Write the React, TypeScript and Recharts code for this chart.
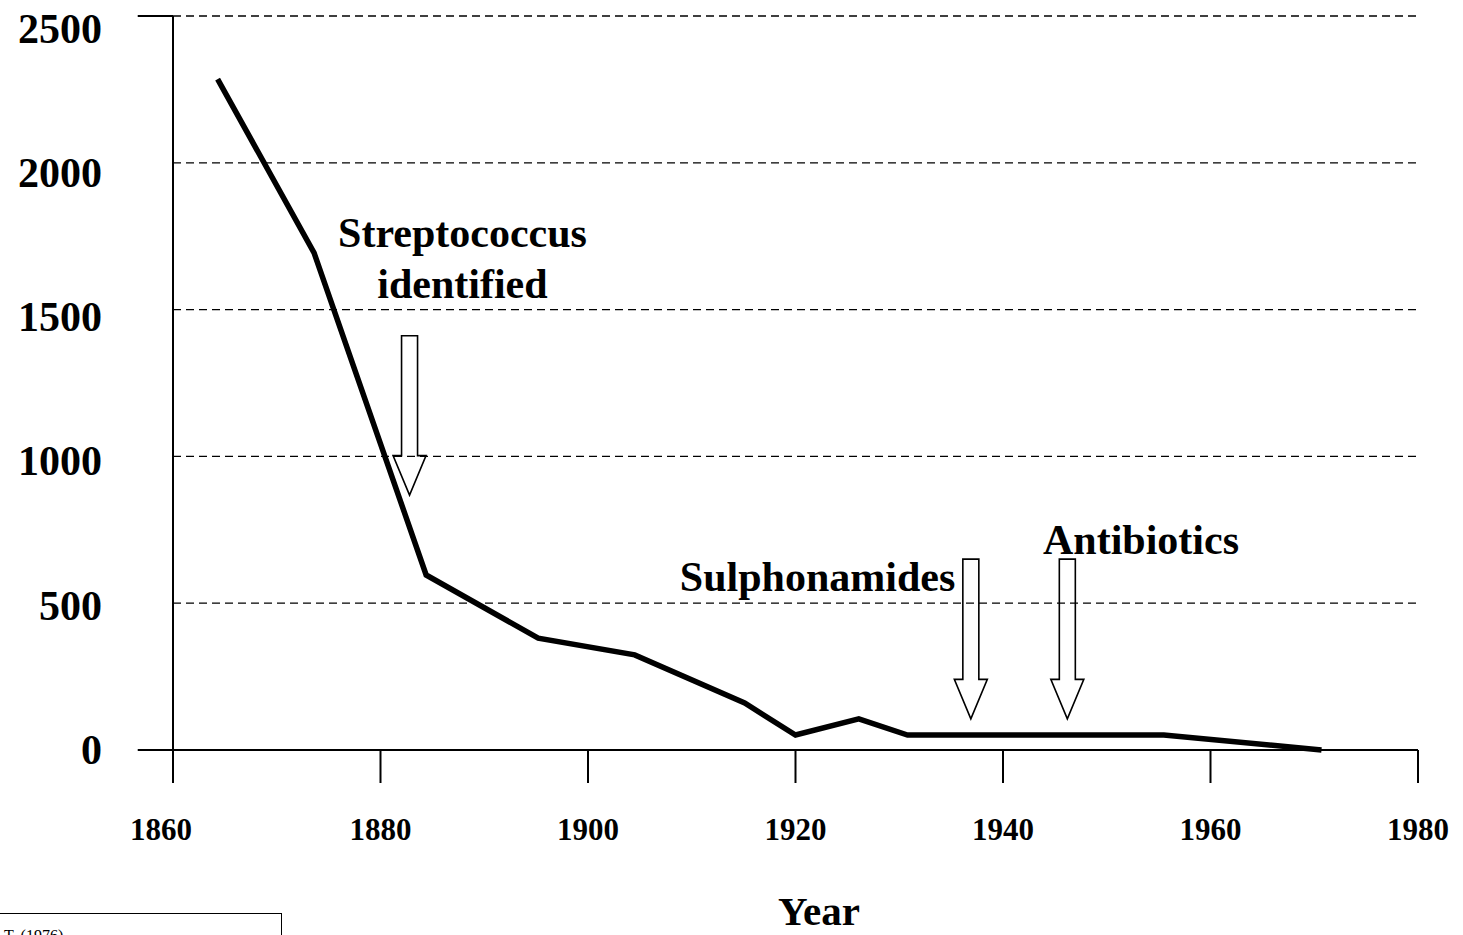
import React from 'react';
import { LineChart, Line, XAxis, YAxis, CartesianGrid, ReferenceLine, ReferenceDot, Label } from 'recharts';

// Data
const years = [1864.3, 1873.6, 1884.4, 1895.2, 1904.5, 1915.1, 1920.0, 1926.1, 1930.8, 1955.5, 1970.7];
const deaths = [2285, 1693, 596, 381, 324, 160, 51, 106, 51, 51, 0];
const xTicks = [1860, 1880, 1900, 1920, 1940, 1960, 1980];
const yTicks = [0, 500, 1000, 1500, 2000, 2500];

// Annotation arrows (year, top value, tip value)
const arrowYears = [1882.8, 1936.9, 1946.2];
const arrowTops = [1411, 650, 650];
const arrowTips = [868, 106, 106];

// Annotation texts
const noteTexts = ['Streptococcus', 'identified', 'Sulphonamides', 'Antibiotics'];
const noteYears = [1887.9, 1887.9, 1935.4, 1953.3];
const noteValues = [1713, 1540, 541, 668];
const noteAnchors = ['middle', 'middle', 'end', 'middle'];

const sourceText = 'T. (1976)';
const AXIS_START_YEAR = 1856.6;

const data = years.map((y, i) => ({ year: y, deaths: deaths[i] }));

const FONT = '"Liberation Serif", "Times New Roman", serif';

const YTick = (props: any) => {
  const { x, y, payload } = props;
  const dy = 14 + (payload.value / 2500) * 12.5;
  return (
    <text x={x} y={y + dy} textAnchor="end" fontFamily={FONT} fontWeight="bold" fontSize={42} fill="#000">
      {payload.value}
    </text>
  );
};

const XTick = (props: any) => {
  const { x, y, payload, index } = props;
  const dx = index === 0 ? -12 : 0;
  return (
    <text x={x + dx} y={y + 21} textAnchor="middle" fontFamily={FONT} fontWeight="bold" fontSize={31} fill="#000">
      {payload.value}
    </text>
  );
};

const arrowShape = (props: any) => {
  const { x1, y1, y2 } = props;
  const cx = x1;
  const top = Math.min(y1, y2);
  const tip = Math.max(y1, y2);
  const headLen = 39.5;
  const sh = 8;
  const hh = 16.5;
  const d = `M${cx - sh},${top} L${cx + sh},${top} L${cx + sh},${tip - headLen} L${cx + hh},${tip - headLen} L${cx},${tip} L${cx - hh},${tip - headLen} L${cx - sh},${tip - headLen} Z`;
  return <path d={d} fill="none" stroke="#000" strokeWidth={1.6} strokeLinejoin="miter" />;
};

export default function App() {
  return (
    <div style={{ position: 'absolute', left: 0, top: 0, width: 1463, height: 935, overflow: 'hidden', background: '#fff' }}>
      <LineChart width={1463} height={935} data={data} margin={{ top: 16, right: 45, left: 0, bottom: 0 }}>
        <CartesianGrid vertical={false} stroke="#000" strokeWidth={1.3} strokeDasharray="8 5" />
        <XAxis
          dataKey="year"
          type="number"
          domain={[1860, 1980]}
          ticks={xTicks}
          height={185}
          axisLine={false}
          tickLine={{ stroke: '#000', strokeWidth: 2 }}
          tickSize={33}
          tickMargin={36}
          tick={<XTick />}
          interval={0}
        >
          <Label
            content={(p: any) => {
              const vb = p.viewBox;
              return (
                <text x={vb.x + vb.width / 2 + 23.5} y={vb.y + 175} textAnchor="middle" fontFamily={FONT} fontWeight="bold" fontSize={41} fill="#000">
                  Year
                </text>
              );
            }}
          />
        </XAxis>
        <YAxis
          type="number"
          domain={[0, 2500]}
          ticks={yTicks}
          width={173}
          axisLine={{ stroke: '#000', strokeWidth: 2 }}
          tickLine={false}
          tickSize={0}
          tickMargin={71}
          tick={<YTick />}
          interval={0}
        />
        <ReferenceLine
          segment={[{ x: AXIS_START_YEAR, y: 0 }, { x: 1980, y: 0 }]}
          stroke="#000"
          strokeWidth={2}
          ifOverflow="visible"
        />
        <ReferenceLine
          segment={[{ x: AXIS_START_YEAR, y: 2500 }, { x: 1860, y: 2500 }]}
          stroke="#000"
          strokeWidth={2}
          ifOverflow="visible"
        />
        {arrowYears.map((yr, i) => (
          <ReferenceLine
            key={'arrow' + i}
            segment={[{ x: yr, y: arrowTops[i] }, { x: yr, y: arrowTips[i] }]}
            shape={arrowShape}
            ifOverflow="visible"
          />
        ))}
        {noteTexts.map((t, i) => (
          <ReferenceDot
            key={'note' + i}
            x={noteYears[i]}
            y={noteValues[i]}
            r={1}
            ifOverflow="visible"
            shape={(p: any) => (
              <text x={p.cx} y={p.cy} textAnchor={noteAnchors[i] as any} fontFamily={FONT} fontWeight="bold" fontSize={42} fill="#000">
                {t}
              </text>
            )}
          />
        ))}
        <Line
          type="linear"
          dataKey="deaths"
          stroke="#000"
          strokeWidth={5.5}
          dot={false}
          activeDot={false}
          isAnimationActive={false}
        />
      </LineChart>
      <div
        style={{
          position: 'absolute',
          left: -2,
          top: 913,
          width: 284,
          height: 60,
          border: '1.5px solid #000',
          boxSizing: 'border-box',
          fontFamily: FONT,
          fontSize: 16,
          paddingLeft: 5,
          paddingTop: 14,
          lineHeight: '16px',
        }}
      >
        {sourceText}
      </div>
    </div>
  );
}
